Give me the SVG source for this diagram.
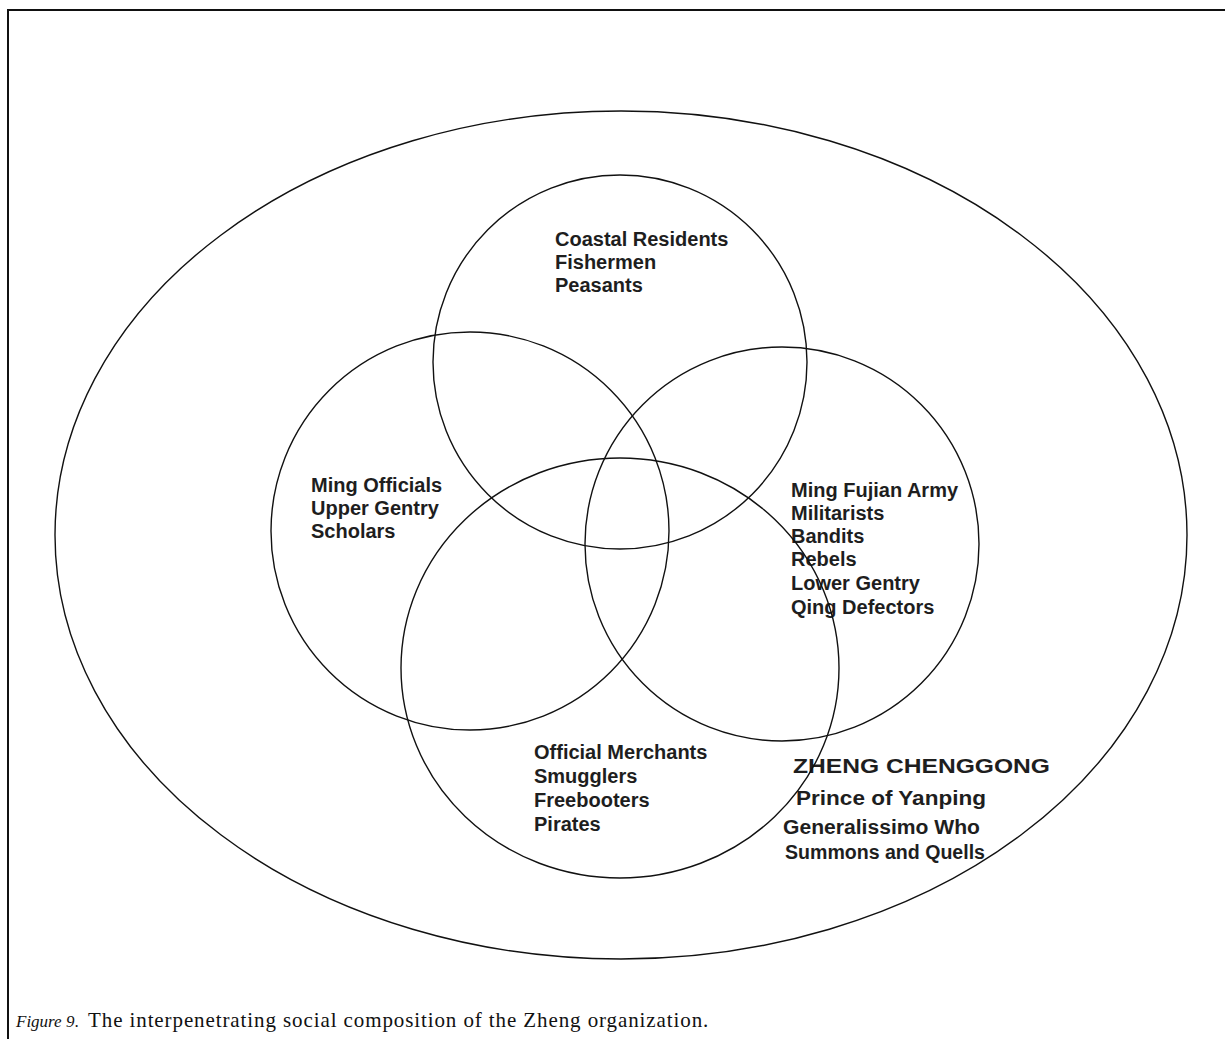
<svg xmlns="http://www.w3.org/2000/svg" width="1225" height="1039" viewBox="0 0 1225 1039">
<style>
.ring{fill:none;stroke:#111;stroke-width:1.4}
.lbl{font-family:"Liberation Sans",Arial,sans-serif;font-weight:bold;font-size:20px;fill:#1e1e1e}
.cap{font-family:"Liberation Serif","Times New Roman",serif;font-size:20px;fill:#111}
</style>
<rect width="1225" height="1039" fill="#fff"/>
<path d="M8 1039 V10 H1225" fill="none" stroke="#111" stroke-width="2"/>
<g id="outer">
<ellipse class="ring" cx="621" cy="535" rx="566" ry="424"/>
<text class="lbl" x="793" y="773" font-size="23" textLength="257" lengthAdjust="spacingAndGlyphs">ZHENG CHENGGONG</text>
<text class="lbl" x="796" y="805" font-size="21" textLength="190" lengthAdjust="spacingAndGlyphs">Prince of Yanping</text>
<text class="lbl" x="783" y="834" font-size="21" textLength="197" lengthAdjust="spacingAndGlyphs">Generalissimo Who</text>
<text class="lbl" x="785" y="859" font-size="20" textLength="200" lengthAdjust="spacingAndGlyphs">Summons and Quells</text>
</g>
<g id="top">
<circle class="ring" cx="620" cy="362" r="187"/>
<text class="lbl" x="555" y="246">Coastal Residents</text>
<text class="lbl" x="555" y="269">Fishermen</text>
<text class="lbl" x="555" y="292">Peasants</text>
</g>
<g id="left">
<circle class="ring" cx="470" cy="531" r="199"/>
<text class="lbl" x="311" y="492">Ming Officials</text>
<text class="lbl" x="311" y="515">Upper Gentry</text>
<text class="lbl" x="311" y="538">Scholars</text>
</g>
<g id="right">
<circle class="ring" cx="782" cy="544" r="197"/>
<text class="lbl" x="791" y="497">Ming Fujian Army</text>
<text class="lbl" x="791" y="520">Militarists</text>
<text class="lbl" x="791" y="543">Bandits</text>
<text class="lbl" x="791" y="566">Rebels</text>
<text class="lbl" x="791" y="590">Lower Gentry</text>
<text class="lbl" x="791" y="614">Qing Defectors</text>
</g>
<g id="bottom">
<ellipse class="ring" cx="620" cy="668" rx="219" ry="210"/>
<text class="lbl" x="534" y="759">Official Merchants</text>
<text class="lbl" x="534" y="783">Smugglers</text>
<text class="lbl" x="534" y="807">Freebooters</text>
<text class="lbl" x="534" y="831">Pirates</text>
</g>
<g id="connectors"></g>
<g id="caption">
<text class="cap" x="16" y="1027"><tspan font-size="17" font-style="italic">Figure 9</tspan><tspan font-size="17">.</tspan><tspan x="88" font-size="21" letter-spacing="0.9">The interpenetrating social composition of the Zheng organization.</tspan></text>
</g>
</svg>
